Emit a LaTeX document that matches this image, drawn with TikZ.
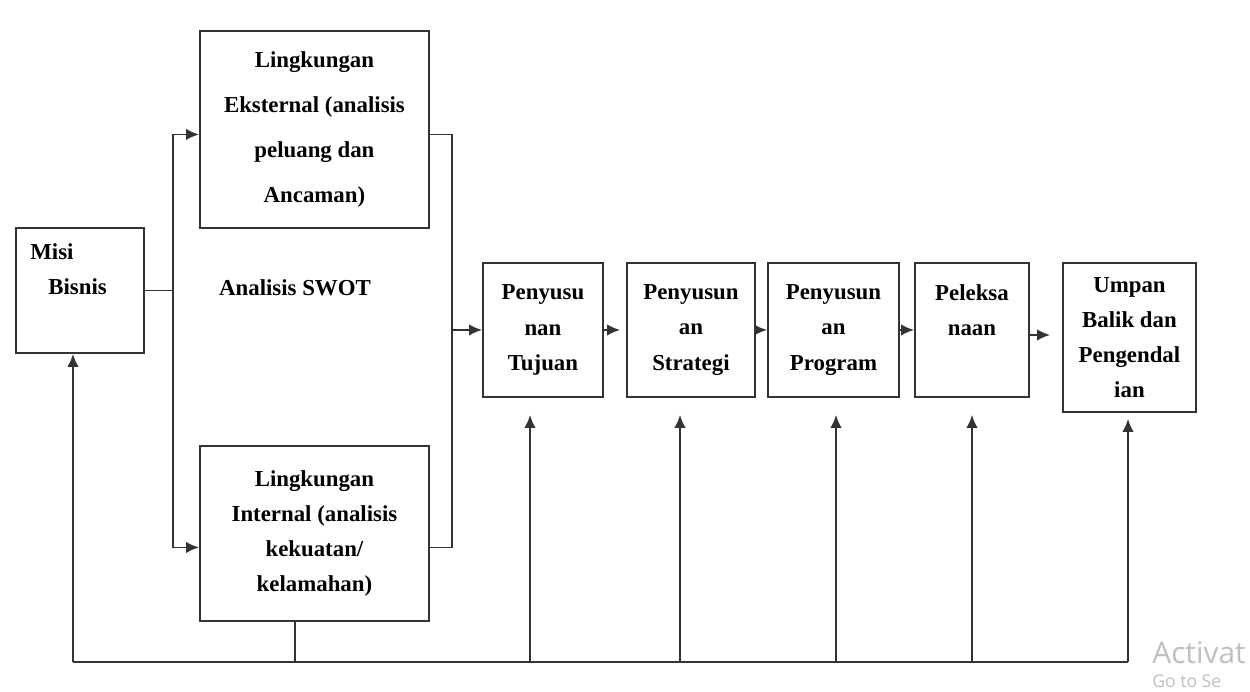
\documentclass[tikz,border=0pt]{standalone}
\usepackage{fontspec}
\setmainfont{Liberation Serif}
\newfontfamily\wmfont{Open Sans}
\usetikzlibrary{arrows.meta}

\tikzset{
  blok/.style={draw=black!80, line width=1.1pt, inner sep=0pt, anchor=north west,
    align=center, font=\fontsize{13}{20}\selectfont\bfseries},
  teks/.style={inner sep=0pt, font=\fontsize{13}{20}\selectfont\bfseries},
  garis/.style={draw=black!80, line width=1pt},
  panah/.style={garis, -{Latex[length=2.6mm,width=2.3mm]}}
}

\begin{document}
\begin{tikzpicture}[x=0.02cm, y=-0.02cm]
                \useasboundingbox (0,0) rectangle (1250,691);

                % Misi Bisnis
                \node[blok, minimum width=2.56cm, minimum height=2.5cm] (misi) at (15,227) {};
                \node[teks, anchor=north west, align=left] (misiteks) at (30,243) {Misi\\\hspace*{0.36cm}Bisnis};

                % Analisis SWOT
                \node[blok, minimum width=4.58cm, minimum height=3.94cm,
                      font=\fontsize{13}{25.6}\selectfont\bfseries] (ekst) at (199,30)
                      {Lingkungan\\Eksternal (analisis\\peluang dan\\Ancaman)};
                \node[blok, minimum width=4.58cm, minimum height=3.5cm] (intl) at (199,445)
                      {Lingkungan\\Internal (analisis\\kekuatan/\\kelamahan)};
                \node[teks] (swot) at (295,288) {Analisis SWOT};

                % Tahapan
                \node[blok, minimum width=2.4cm, minimum height=2.68cm] (tujuan) at (482,262) {Penyusu\\nan\\Tujuan};
                \node[blok, minimum width=2.56cm, minimum height=2.68cm] (strategi) at (626,262) {Penyusun\\an\\Strategi};
                \node[blok, minimum width=2.62cm, minimum height=2.68cm] (program) at (767,262) {Penyusun\\an\\Program};
                \node[blok, minimum width=2.28cm, minimum height=2.68cm] (pelaksanaan) at (914,262) {Peleksa\\naan\\\vphantom{Tg}};
                \node[blok, minimum width=2.66cm, minimum height=2.98cm] (umpan) at (1062,262) {Umpan\\Balik dan\\Pengendal\\ian};

                % Cabang ke lingkungan
                \coordinate (cabang) at (misi.east -| 173,0);
                \draw[garis] (misi.east) -- (cabang);
                \draw[panah] (cabang) |- ([yshift=-0.1cm]ekst.west);
                \draw[panah] (cabang) |- ([yshift=-0.28cm]intl.west);

                % Gabung ke tujuan
                \coordinate (gabung) at (tujuan.west -| 452,0);
                \draw[garis] ([yshift=-0.1cm]ekst.east) -| (gabung) |- ([yshift=-0.28cm]intl.east);
                \draw[panah] (gabung) -- (tujuan.west);

                % Antar tahapan
                \draw[panah, shorten >=0.12cm] (tujuan) -- (strategi);
                \draw[panah] (strategi) -- (program);
                \draw[panah] (program) -- (pelaksanaan);
                \draw[panah, shorten >=0.24cm] ([yshift=-0.1cm]pelaksanaan.east) -- ([yshift=-0.1cm]pelaksanaan.east -| umpan.west);

                % Umpan balik bawah
                \coordinate (buskiri) at (73,662);
                \coordinate (buskanan) at (1128,662);
                \coordinate (busint) at (295,662);
                \draw[garis] (buskiri) -- (buskanan);
                \draw[garis] (busint |- intl.south) -- (busint);
                \draw[panah] (buskiri) -- (buskiri |- misi.south);
                \foreach \x/\n in {530/tujuan, 680/strategi, 836/program, 972/pelaksanaan} {
                  \coordinate (bus\n) at (\x,662);
                  \draw[panah, shorten >=0.34cm] (bus\n) -- (bus\n |- \n.south);
                }
                \draw[panah, shorten >=0.12cm] (buskanan) -- (buskanan |- umpan.south);

                % Watermark
                \node[inner sep=0pt, anchor=base west, text=black!25, font=\wmfont\fontsize{17}{17}\selectfont] (aktif) at (1152,663) {Activat};
                \node[inner sep=0pt, anchor=base west, text=black!25, font=\wmfont\fontsize{10}{10}\selectfont] (seting) at (1152,687) {Go to Se};
            \end{tikzpicture}
\end{document}
